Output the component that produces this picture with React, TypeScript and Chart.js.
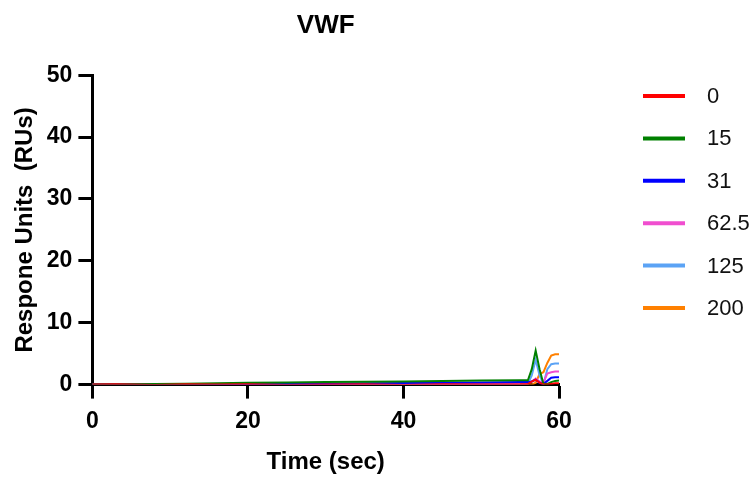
import React, { useEffect, useRef } from "react";
import { Chart, registerables } from "chart.js";

Chart.register(...registerables);

const title = "VWF";
const xTitle = "Time (sec)";
const yTitle = "Respone Units  (RUs)";

const times = [0, 3, 8, 12, 16, 20, 25, 30, 35, 40, 45, 50, 55, 56, 56.5, 57, 57.5, 58, 58.5, 59, 59.5, 60];

const seriesLabels = ["0", "15", "31", "62.5", "125", "200"];
const seriesColors = ["#FF0000", "#008000", "#0000FF", "#F04ECF", "#5BA3F5", "#FF8000"];

const conc0 = [0, 0.05, -0.05, 0.05, 0, 0.05, -0.05, 0, 0.05, -0.05, 0.05, 0, 0.05, 0.1, 0.5, 0.8, 0.3, 0, 0, 0.1, 0.2, 0.2];
const conc15 = [0, 0.02, 0.1, 0.15, 0.2, 0.3, 0.35, 0.4, 0.45, 0.5, 0.6, 0.65, 0.7, 0.7, 2.5, 5.5, 2.5, 0.1, 0.1, 0.4, 0.6, 0.65];
const conc31 = [0, 0, 0, 0.05, 0.05, 0.1, 0.1, 0.15, 0.2, 0.25, 0.3, 0.35, 0.4, 0.4, 0.5, 0.8, 0.3, 0.1, 0.6, 1.1, 1.2, 1.2];
const conc62 = [0, 0, 0, 0, 0, 0.05, 0.05, 0.05, 0.1, 0.1, 0.1, 0.15, 0.2, 0.2, 0.5, 1.0, 0.5, 0.3, 1.8, 2.0, 2.1, 2.1];
const conc125 = [0, 0, 0, 0, 0, 0, 0, 0, 0.05, 0.05, 0.1, 0.1, 0.1, 0.15, 1.5, 4.0, 1.5, 0.1, 2.5, 3.3, 3.4, 3.4];
const conc200 = [0, 0, 0, 0, 0, 0, 0, 0, 0, 0, 0, 0, 0.05, 0, 0, 0.3, 1.7, 2.0, 3.5, 4.7, 4.9, 4.9];

const seriesValues = [conc0, conc15, conc31, conc62, conc125, conc200];

const xTicks = { min: 0, max: 60, step: 20 };
const yTicks = { min: 0, max: 50, step: 10 };

const FONT = '"Liberation Sans", Arial, Helvetica, sans-serif';

const legendPlugin = {
  id: "sideLegend",
  afterDraw(chart: any) {
    const ctx = chart.ctx;
    const x0 = 643;
    const y0 = 96;
    const gap = 42.4;
    ctx.save();
    chart.data.datasets.forEach((ds: any, i: number) => {
      const y = y0 + i * gap;
      ctx.strokeStyle = ds.borderColor;
      ctx.lineWidth = 4;
      ctx.beginPath();
      ctx.moveTo(x0, y);
      ctx.lineTo(x0 + 42, y);
      ctx.stroke();
      ctx.fillStyle = "#111";
      ctx.font = `22px ${FONT}`;
      ctx.textBaseline = "middle";
      ctx.textAlign = "left";
      ctx.fillText(ds.label, x0 + 64, y + 1);
    });
    ctx.restore();
  },
};

export default function App() {
  const ref = useRef<HTMLCanvasElement>(null);
  useEffect(() => {
    if (!ref.current) return;
    Chart.defaults.font.family = FONT;
    const chart = new Chart(ref.current, {
      type: "line",
      data: {
        datasets: seriesLabels.map((label, i) => ({
          label,
          data: times.map((t, j) => ({ x: t, y: seriesValues[i][j] })),
          borderColor: seriesColors[i],
          backgroundColor: seriesColors[i],
          borderWidth: 2,
          pointRadius: 0,
          tension: 0,
          fill: false,
        })),
      },
      options: {
        responsive: false,
        animation: false,
        layout: { padding: { left: 6, right: 196, top: 0, bottom: 0 } },
        plugins: {
          legend: { display: false },
          tooltip: { enabled: false },
          title: {
            display: true,
            text: title,
            fullSize: false,
            color: "#000",
            font: { size: 26, weight: "bold", family: FONT },
            padding: { top: 10, bottom: 34 },
          },
        },
        scales: {
          x: {
            type: "linear",
            min: xTicks.min,
            max: xTicks.max,
            ticks: {
              stepSize: xTicks.step,
              color: "#000",
              font: { size: 23, weight: "bold", family: FONT },
              padding: 9,
              maxRotation: 0,
            },
            grid: {
              display: true,
              drawOnChartArea: false,
              drawTicks: true,
              tickLength: 14,
              tickWidth: 3,
              tickColor: "#000",
            },
            border: { display: true, width: 3, color: "#000" },
            title: {
              display: true,
              text: xTitle,
              color: "#000",
              font: { size: 24, weight: "bold", family: FONT },
              padding: { top: 4, bottom: 0 },
            },
          },
          y: {
            type: "linear",
            min: yTicks.min,
            max: yTicks.max,
            ticks: {
              stepSize: yTicks.step,
              color: "#000",
              font: { size: 23, weight: "bold", family: FONT },
              padding: 6,
            },
            grid: {
              display: true,
              drawOnChartArea: false,
              drawTicks: true,
              tickLength: 14,
              tickWidth: 3,
              tickColor: "#000",
            },
            border: { display: true, width: 3, color: "#000" },
            title: {
              display: true,
              text: yTitle,
              color: "#000",
              font: { size: 24, weight: "bold", family: FONT },
              padding: { top: 5, bottom: 1 },
            },
          },
        },
      },
      plugins: [legendPlugin],
    });
    return () => chart.destroy();
  }, []);
  return (
    <div style={{ position: "fixed", left: 0, top: 0, width: 755, height: 477, background: "#fff" }}>
      <canvas ref={ref} width={755} height={477} style={{ display: "block" }} />
    </div>
  );
}
